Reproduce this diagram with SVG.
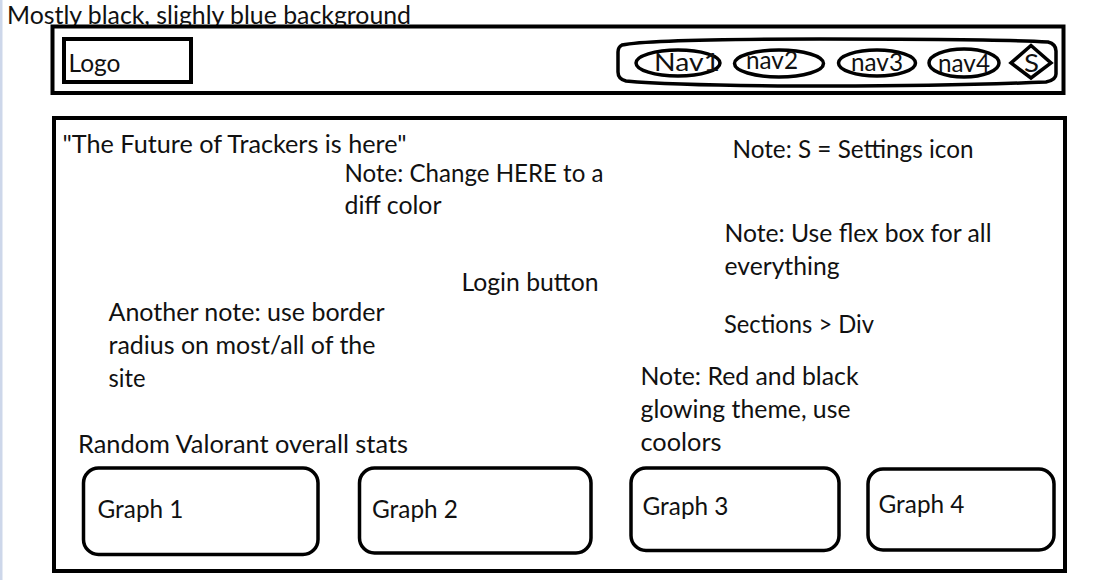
<svg xmlns="http://www.w3.org/2000/svg" width="1108" height="580" viewBox="0 0 1108 580">
<style>
text{font-family:Lato,"Open Sans","Liberation Sans",sans-serif;font-size:24.5px;fill:#111}
.b{fill:none;stroke:#000;stroke-width:4}
.t{fill:none;stroke:#000;stroke-width:3.5}
</style>
<rect width="1108" height="580" fill="#fff"/>
<rect x="0" y="0" width="2.5" height="580" fill="#cdd7ea"/>
<g id="background-note"><text x="7" y="24" textLength="404" lengthAdjust="spacingAndGlyphs">Mostly black, slighly blue background</text></g>
<g id="header"><rect class="b" x="52.500" y="26.500" width="1011" height="66.500"/></g>
<g id="logo"><rect class="b" x="64" y="39" width="127" height="43"/><text x="68.500" y="71.500" textLength="52" lengthAdjust="spacingAndGlyphs">Logo</text></g>
<g id="nav-bar"><path class="t" d="M622 45Q650 39 820 39Q1000 39 1048 42Q1056 44 1056 51L1056 74Q1056 80 1046 82Q950 86 830 86Q680 86 626 81Q618 79 618 72L618 52Q618 47 622 45Z"/></g>
<g id="nav1"><ellipse class="t" cx="678" cy="63" rx="42" ry="13"/><text x="654" y="71" textLength="66" lengthAdjust="spacingAndGlyphs">Nav1</text></g>
<g id="nav2"><ellipse class="t" cx="779" cy="63.500" rx="44.500" ry="13.500"/><text x="746" y="69" textLength="52" lengthAdjust="spacingAndGlyphs">nav2</text></g>
<g id="nav3"><ellipse class="t" cx="877" cy="63" rx="38.500" ry="13"/><text x="851" y="71" textLength="52" lengthAdjust="spacingAndGlyphs">nav3</text></g>
<g id="nav4"><ellipse class="t" cx="964" cy="63" rx="35" ry="14"/><text x="938" y="72" textLength="52" lengthAdjust="spacingAndGlyphs">nav4</text></g>
<g id="settings"><polygon class="t" points="1031,45.500 1051,63 1031,78 1011,63"/><text x="1024" y="72" textLength="15" lengthAdjust="spacingAndGlyphs">S</text></g>
<g id="main"><rect class="b" x="54" y="118" width="1011" height="453"/></g>
<g id="notes">
<text x="62.500" y="153" textLength="344" lengthAdjust="spacingAndGlyphs">"The Future of Trackers is here"</text>
<text x="344.500" y="182" textLength="259" lengthAdjust="spacingAndGlyphs">Note: Change HERE to a</text>
<text x="344.500" y="214" textLength="97" lengthAdjust="spacingAndGlyphs">diff color</text>
<text x="732.500" y="158" textLength="241" lengthAdjust="spacingAndGlyphs">Note: S = Settings icon</text>
<text x="724.500" y="242" textLength="267" lengthAdjust="spacingAndGlyphs">Note: Use flex box for all</text>
<text x="724.500" y="275" textLength="115" lengthAdjust="spacingAndGlyphs">everything</text>
<text x="461.500" y="291" textLength="137" lengthAdjust="spacingAndGlyphs">Login button</text>
<text x="108.500" y="321" textLength="276" lengthAdjust="spacingAndGlyphs">Another note: use border</text>
<text x="108.500" y="354" textLength="267" lengthAdjust="spacingAndGlyphs">radius on most/all of the</text>
<text x="108.500" y="387" textLength="37" lengthAdjust="spacingAndGlyphs">site</text>
<text x="724" y="333" textLength="150" lengthAdjust="spacingAndGlyphs">Sections &gt; Div</text>
<text x="640.500" y="385" textLength="218" lengthAdjust="spacingAndGlyphs">Note: Red and black</text>
<text x="640.500" y="418" textLength="210" lengthAdjust="spacingAndGlyphs">glowing theme, use</text>
<text x="640.500" y="451" textLength="81" lengthAdjust="spacingAndGlyphs">coolors</text>
<text x="78" y="452.500" textLength="330" lengthAdjust="spacingAndGlyphs">Random Valorant overall stats</text>
</g>
<g id="graph1"><rect class="t" x="83.500" y="468" width="234.500" height="86.500" rx="15"/><text x="97.500" y="518" textLength="86" lengthAdjust="spacingAndGlyphs">Graph 1</text></g>
<g id="graph2"><rect class="t" x="359.500" y="468" width="231.500" height="85" rx="15"/><text x="372" y="518" textLength="86" lengthAdjust="spacingAndGlyphs">Graph 2</text></g>
<g id="graph3"><rect class="t" x="631" y="468" width="208" height="82.500" rx="15"/><text x="642.500" y="515" textLength="86" lengthAdjust="spacingAndGlyphs">Graph 3</text></g>
<g id="graph4"><rect class="t" x="868" y="469" width="186" height="81" rx="15"/><text x="878.500" y="513" textLength="86" lengthAdjust="spacingAndGlyphs">Graph 4</text></g>
<g id="connectors"/>
</svg>
